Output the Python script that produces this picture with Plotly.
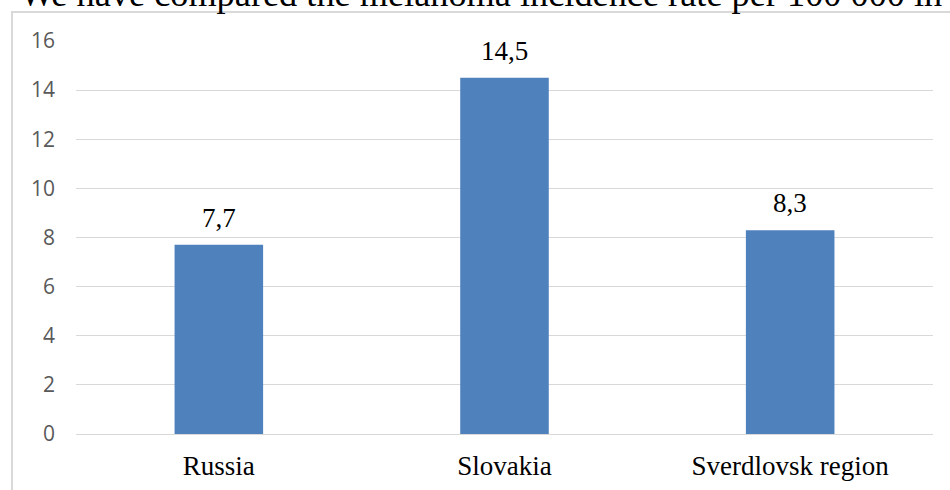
import plotly.graph_objects as go

categories = ["Russia", "Slovakia", "Sverdlovsk region"]
values = [7.7, 14.5, 8.3]
tick_vals = [0, 2, 4, 6, 8, 10, 12, 14, 16]
heading = "We have compared the melanoma incidence rate per 100 000 in"

W, H = 950, 490
L, R, T, B = 76, 17, 41, 56
PW, PH = W - L - R, H - T - B

def px_x(px):
    return (px - L) / PW

def px_y(py):
    return (H - B - py) / PH

fig = go.Figure(go.Bar(
    x=categories, y=values,
    marker=dict(color="#4f81bd", line=dict(width=0)),
    hoverinfo="skip",
))

serif = "Liberation Serif, Times New Roman, serif"

annotations = []
for c, v in zip(categories, values):
    annotations.append(dict(
        x=c, y=v, xref="x", yref="y", text=f"{v:.1f}".replace(".", ","),
        showarrow=False, yanchor="bottom", yshift=10,
        font=dict(family=serif, size=27, color="#000000"),
    ))
annotations.append(dict(
    x=px_x(18), y=px_y(-6.5), xref="paper", yref="paper", text=heading,
    showarrow=False, xanchor="left", yanchor="middle",
    font=dict(family=serif, size=36.3, color="#000000"),
))

shapes = [
    dict(type="line", xref="paper", yref="paper",
         x0=px_x(12), x1=px_x(12), y0=px_y(12), y1=px_y(500),
         line=dict(color="#d9d9d9", width=2)),
    dict(type="line", xref="paper", yref="paper",
         x0=px_x(11), x1=px_x(960), y0=px_y(12), y1=px_y(12),
         line=dict(color="#d9d9d9", width=2)),
]

fig.update_layout(
    width=W, height=H,
    margin=dict(l=L, r=R, t=T, b=B, pad=0, autoexpand=False),
    paper_bgcolor="white", plot_bgcolor="white",
    showlegend=False, bargap=0.69,
    annotations=annotations, shapes=shapes,
    xaxis=dict(type="category", showgrid=False, showline=False, ticks="",
               zeroline=False, automargin=False,
               tickfont=dict(family=serif, size=27, color="#000000"),
               ticklabelstandoff=13),
    yaxis=dict(range=[0, 16], tickvals=tick_vals, showgrid=True,
               gridcolor="#d9d9d9", gridwidth=1.3, zeroline=True,
               zerolinecolor="#d9d9d9", zerolinewidth=1.3, showline=False,
               automargin=False,
               ticks="", tickfont=dict(family="Open Sans, sans-serif", size=21, color="#595959"),
               ticklabelstandoff=20),
)

fig.write_html("out.html")
